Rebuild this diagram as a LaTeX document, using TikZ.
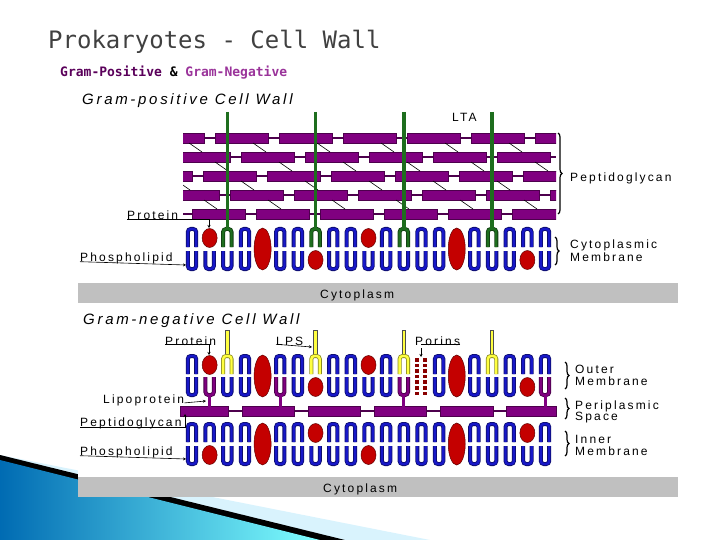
\documentclass[tikz,border=0pt]{standalone}
\usepackage{fontspec}
\setmainfont{Liberation Sans}
\newfontfamily\lblfont[LetterSpace=18]{Liberation Sans}
\newfontfamily\ttlfont{DejaVu Sans Mono}
\usetikzlibrary{decorations.pathreplacing,arrows.meta}
\definecolor{lipblue}{HTML}{1818C8}
\definecolor{pgpurple}{HTML}{800080}
\definecolor{ltagreen}{HTML}{1E6E1E}
\definecolor{lpsyellow}{HTML}{FFFF40}
\definecolor{protred}{HTML}{C40000}
\definecolor{cytogray}{HTML}{C0C0C0}
\tikzset{
  lbl/.style={anchor=base west, inner sep=0pt, font=\lblfont\fontsize{12}{14}\selectfont},
  ptr/.style={-{Stealth[length=3pt,width=3pt]}, line width=0.6pt},
  bar/.style={fill=pgpurple, draw=pgpurple!60!black, line width=0.5pt},
  prot/.style={fill=protred, draw=protred!50!black, line width=0.5pt},
  brc/.style={decorate, decoration={brace, amplitude=4pt}, line width=1.2pt},
}
% one lipid, open side down (cap) or up (cup)
\newcommand\lipcap[3]{%
  \draw[line width=4pt, #3!55!black, rounded corners=3pt] (#1-4.2,#2+18) -- (#1-4.2,#2) -- (#1+4.2,#2) -- (#1+4.2,#2+18);
  \draw[line width=2.4pt, #3, rounded corners=3pt] (#1-4.2,#2+18) -- (#1-4.2,#2) -- (#1+4.2,#2) -- (#1+4.2,#2+18);}
\newcommand\lipcup[3]{%
  \draw[line width=4pt, #3!55!black, rounded corners=3pt] (#1-4.2,#2) -- (#1-4.2,#2+18) -- (#1+4.2,#2+18) -- (#1+4.2,#2);
  \draw[line width=2.4pt, #3, rounded corners=3pt] (#1-4.2,#2) -- (#1-4.2,#2+18) -- (#1+4.2,#2+18) -- (#1+4.2,#2);}
\begin{document}
\begin{tikzpicture}[x=1pt, y=-1pt]
\useasboundingbox (0,0) rectangle (720,540);
% swoosh
\fill[cyan!15!white] (0,455) -- (430,540) -- (0,540) -- cycle;
\fill[black] (0,455) -- (345,540) -- (0,540) -- cycle;
\shade[left color=cyan!60!blue!70!black, right color=cyan!50] (0,460) -- (320,540) -- (0,540) -- cycle;
\fill[white] (78,88) rectangle (678,497);

% titles
\node (title) [anchor=base west, inner sep=0pt, text=black!75, font=\ttlfont\fontsize{24}{28}\selectfont] at (48,49) {Prokaryotes - Cell Wall};
\node (subtitle) [anchor=base west, inner sep=0pt, font=\ttlfont\bfseries\fontsize{13}{15}\selectfont] at (60,77)
  {\textcolor{pgpurple!70!black}{Gram-Positive} \& \textcolor{pgpurple!80}{Gram-Negative}};
\node (postitle) [anchor=base west, inner sep=0pt, font=\lblfont\itshape\fontsize{15}{17}\selectfont] at (82,105) {Gram-positive Cell Wall};
\node (negtitle) [anchor=base west, inner sep=0pt, font=\lblfont\itshape\fontsize{15}{17}\selectfont] at (83,324) {Gram-negative Cell Wall};

% gram-positive peptidoglycan
\begin{scope}
  \clip (183,125) rectangle (556,222);
  \foreach \ry/\ro [count=\r] in {133/215,152/241,171/203,190/230,209/192} {
    \draw[pgpurple!60!black, line width=1.5pt] (183,\ry+5) -- (556,\ry+5);
    \foreach \k in {-2,...,6}
      \draw[bar] (\ro+64*\k,\ry) rectangle ++(53,10);
  }
  \foreach \ry/\ro in {133/215,152/241,171/203,190/230}
    \foreach \k in {-2,...,6}
      \draw[line width=0.6pt] (\ro+38+64*\k,\ry+10) -- ++(13,9);
\end{scope}

% gram-positive membrane
\foreach \i in {0,3,5,6,8,9,11,13,14,16,18,19,20} {\pgfmathsetmacro\x{192+17.65*\i} \lipcap{\x}{229}{lipblue}}
\foreach \i in {2,7,12,17} {\pgfmathsetmacro\x{192+17.65*\i}
  \lipcap{\x}{229}{ltagreen}
  \draw[line width=3.5pt, ltagreen] (\x,112) -- (\x,230);}
\foreach \i in {0,1,2,3,5,6,8,9,10,11,12,13,14,16,17,18,20} {\pgfmathsetmacro\x{192+17.65*\i} \lipcup{\x}{251}{lipblue}}
\foreach \i in {1,10} {\pgfmathsetmacro\x{192+17.65*\i} \draw[prot] (\x,238) ellipse (7.5 and 9.5);}
\foreach \i in {7,19} {\pgfmathsetmacro\x{192+17.65*\i} \draw[prot] (\x,260) ellipse (7.5 and 9.5);}
\foreach \i in {4,15} {\pgfmathsetmacro\x{192+17.65*\i} \draw[prot] (\x,249) ellipse (8.5 and 21);}

% gram-positive labels
\node (lta) [lbl] at (452,122) {LTA};
\node (pprot) [lbl] at (127,220) {Protein};
\coordinate (pprotpt) at (209,228);
\draw[ptr] (pprot.south west) ++(0,-1) -| (pprotpt);
\node (pphos) [lbl] at (80,261) {Phospholipid};
\coordinate (pphospt) at (186,265);
\draw[ptr] (pphos.south west) ++(0,-2) -- (pphospt);
\draw[brc] (558,133) -- (558,214);
\node (ppg) [lbl] at (570,182) {Peptidoglycan};
\draw[brc] (555,237) -- (555,265);
\node (pcm) [lbl] at (570,248) {Cytoplasmic};
\node (pcm2) [lbl] at (570,261) {Membrane};
\fill[cytogray] (78,283) rectangle (678,303);
\node (pcyto) [lbl] at (320,298) {Cytoplasm};

% gram-negative peptidoglycan
\draw[pgpurple!60!black, line width=1.5pt] (180,411) -- (556,411);
\foreach \a/\b in {180/228,242/294,308/360,374/426,440/493,506/556}
  \draw[bar] (\a,406) rectangle (\b,416);

% outer membrane
\foreach \i in {0,3,5,6,8,9,11,14,16,18,19,20} {\pgfmathsetmacro\x{192+17.65*\i} \lipcap{\x}{356}{lipblue}}
\foreach \i in {2,7,12,17} {\pgfmathsetmacro\x{192+17.65*\i}
  \draw[line width=4.4pt, black!70] (\x,330) -- (\x,357);
  \draw[line width=2.6pt, lpsyellow] (\x,330.7) -- (\x,357);
  \lipcap{\x}{356}{lpsyellow}}
\foreach \i in {0,2,3,6,8,9,10,11,14,16,17,18} {\pgfmathsetmacro\x{192+17.65*\i} \lipcup{\x}{377}{lipblue}}
\foreach \i in {1,5,12,20} {\pgfmathsetmacro\x{192+17.65*\i}
  \lipcup{\x}{377}{pgpurple}
  \draw[line width=3pt, pgpurple] (\x,396) -- (\x,407);}
\foreach \i in {1,10} {\pgfmathsetmacro\x{192+17.65*\i} \draw[prot] (\x,365) ellipse (7.5 and 9.5);}
\foreach \i in {7,19} {\pgfmathsetmacro\x{192+17.65*\i} \draw[prot] (\x,387) ellipse (7.5 and 9.5);}
\foreach \i in {4,15} {\pgfmathsetmacro\x{192+17.65*\i} \draw[prot] (\x,376) ellipse (8.5 and 21);}
\foreach \c in {-4,4} \foreach \rr in {0,...,6}
  \fill[protred!70!black] (421+\c-2,358+5.6*\rr) rectangle ++(4,3.6);

% inner membrane
\foreach \i in {0,1,2,3,5,6,8,9,10,11,12,13,14,16,17,18,20} {\pgfmathsetmacro\x{192+17.65*\i} \lipcap{\x}{424}{lipblue}}
\foreach \i in {0,2,3,5,6,7,8,9,11,12,13,14,16,17,18,19,20} {\pgfmathsetmacro\x{192+17.65*\i} \lipcup{\x}{446}{lipblue}}
\foreach \i in {7,19} {\pgfmathsetmacro\x{192+17.65*\i} \draw[prot] (\x,433) ellipse (7.5 and 9.5);}
\foreach \i in {1,10} {\pgfmathsetmacro\x{192+17.65*\i} \draw[prot] (\x,455) ellipse (7.5 and 9.5);}
\foreach \i in {4,15} {\pgfmathsetmacro\x{192+17.65*\i} \draw[prot] (\x,444) ellipse (8.5 and 21);}

% gram-negative labels
\node (nprot) [lbl] at (165,345) {Protein};
\coordinate (nprotpt) at (209,355);
\draw[ptr] (nprot.south west) ++(0,-1) -| (nprotpt);
\node (nlps) [lbl] at (276,345) {LPS};
\coordinate (nlpspt) at (312,347);
\draw[ptr] (nlps.south west) ++(0,-1) -- (nlpspt);
\node (nporin) [lbl] at (415,345) {Porins};
\coordinate (nporinpt) at (421,357);
\draw (nporin.south east) ++(0,-1) -- ++(-39,0);
\draw[ptr] (nporinpt) ++(0,-9) -- (nporinpt);
\node (nlipo) [lbl] at (103,403) {Lipoprotein};
\coordinate (nlipopt) at (206,401);
\draw[ptr] (nlipo.east) ++(0,3) -- (nlipopt);
\node (npg) [lbl] at (80,426) {Peptidoglycan};
\coordinate (npgpt) at (185,414);
\draw[ptr] (npg.south west) ++(0,-1) -| (npgpt);
\node (nphos) [lbl] at (80,455) {Phospholipid};
\coordinate (nphospt) at (186,459);
\draw[ptr] (nphos.south west) ++(0,-2) -- (nphospt);
\draw[brc] (565,362) -- (565,389);
\node (nout) [lbl] at (575,373) {Outer};
\node (nout2) [lbl] at (575,385) {Membrane};
\draw[brc] (565,398) -- (565,419);
\node (nperi) [lbl] at (575,409) {Periplasmic};
\node (nperi2) [lbl] at (575,420) {Space};
\draw[brc] (565,431) -- (565,456);
\node (ninn) [lbl] at (575,443) {Inner};
\node (ninn2) [lbl] at (575,455) {Membrane};
\fill[cytogray] (78,477) rectangle (678,497);
\node (ncyto) [lbl] at (323,492) {Cytoplasm};
\end{tikzpicture}
\end{document}
